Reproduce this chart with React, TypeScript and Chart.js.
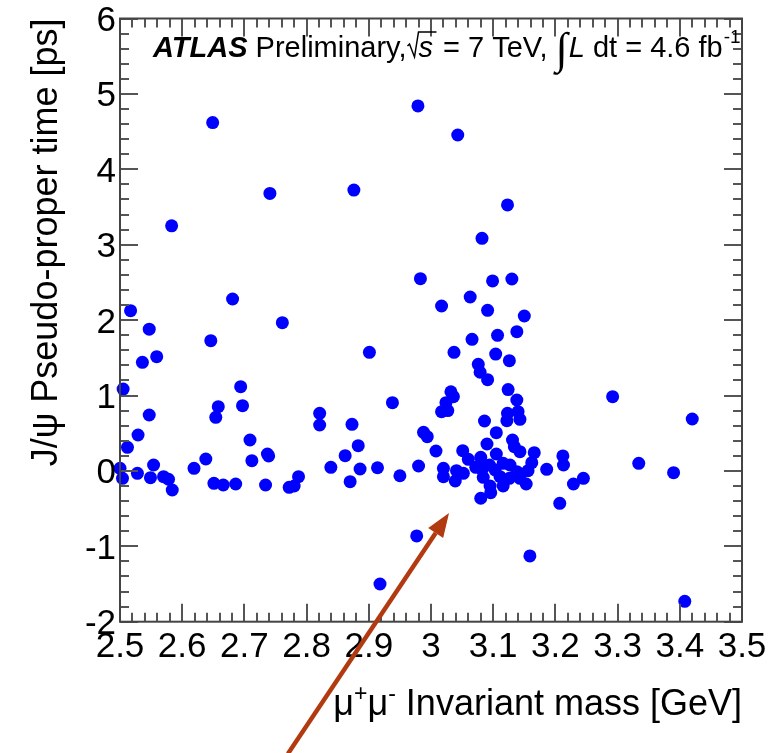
import React, { useEffect, useRef } from "react";
import { Chart, registerables } from "chart.js";

Chart.register(...registerables);

// ---- data ----
const massGeV: number[] = [
  2.649, 2.979, 2.741, 2.876, 2.583, 2.983, 2.517, 2.681, 2.547, 2.761,
  2.646, 2.536, 2.559, 2.901, 2.505, 2.694, 3.043, 3.123, 3.082, 3.099,
  3.130, 3.063, 3.017, 3.091, 3.150, 3.138, 3.107, 3.066, 3.104, 3.126,
  3.037, 3.076, 3.079, 3.091, 3.124, 3.032, 2.500, 2.504, 2.512, 2.529,
  2.547, 2.528, 2.554, 2.549, 2.570, 2.578, 2.584, 2.619, 2.638, 2.651,
  2.666, 2.686, 2.654, 2.658, 2.697, 2.709, 2.712, 2.737, 2.739, 2.734,
  2.772, 2.780, 2.787, 2.821, 2.821, 2.839, 2.862, 2.873, 2.883, 2.870,
  2.886, 2.914, 2.938, 2.950, 2.980, 2.988, 2.994, 3.036, 3.024, 3.138,
  3.017, 3.027, 3.123, 3.140, 3.122, 3.143, 3.086, 3.105, 3.090, 3.131,
  3.134, 3.008, 3.051, 3.143, 3.166, 3.060, 3.080, 3.105, 3.162, 3.072,
  3.094, 3.116, 3.127, 3.020, 3.041, 3.052, 3.082, 3.103, 3.138, 3.156,
  3.186, 3.212, 3.213, 3.020, 3.039, 3.084, 3.111, 3.126, 3.143, 3.095,
  3.116, 3.153, 3.096, 3.080, 3.229, 3.245, 3.207, 3.292, 3.334, 3.390,
  3.420, 2.977, 3.159, 2.918, 3.408,
];
const properTimePs: number[] = [
  4.62, 4.84, 3.68, 3.725, 3.25, 2.55, 2.125, 2.28, 1.88, 1.966,
  1.727, 1.44, 1.515, 1.573, 1.085, 1.117, 4.455, 3.527, 3.085, 2.519,
  2.545, 2.306, 2.187, 2.13, 2.054, 1.846, 1.798, 1.745, 1.55, 1.462,
  1.573, 1.414, 1.308, 1.21, 1.078, 1.05, 0.034, -0.098, 0.313, 0.476,
  0.741, -0.032, 0.078, -0.09, -0.077, -0.111, -0.253, 0.034, 0.158, -0.165,
  -0.187, -0.174, 0.711, 0.852, 0.865, 0.41, 0.135, 0.224, 0.198, -0.187,
  -0.218, -0.2, -0.077, 0.764, 0.609, 0.048, 0.202, 0.618, 0.334, -0.143,
  0.025, 0.042, 0.905, -0.064, 0.065, 0.512, 0.454, 0.984, 0.905, 0.94,
  0.785, 0.8, 0.764, 0.785, 0.666, 0.684, 0.662, 0.507, 0.357, 0.41,
  0.321, 0.264, 0.268, 0.255, 0.242, 0.154, 0.18, 0.224, 0.109, 0.048,
  0.078, 0.1, 0.078, 0.034, 0.003, -0.032, 0.021, 0.012, -0.01, 0.003,
  0.021, 0.198, 0.078, -0.077, -0.134, -0.085, -0.077, -0.098, -0.098, -0.2,
  -0.2, -0.174, -0.289, -0.363, -0.174, -0.098, -0.43, 0.984, 0.1, -0.024,
  0.688, -0.863, -1.128, -1.5, -1.73,
];

const xTickLabels = ["2.5", "2.6", "2.7", "2.8", "2.9", "3", "3.1", "3.2", "3.3", "3.4", "3.5"];
const yTickLabels = ["-2", "-1", "0", "1", "2", "3", "4", "5", "6"];
const xMinorStep = 0.02;
const yMinorStep = 0.2;

const xTitleMain = " Invariant mass [GeV]";
const yTitle = "J/\u03C8 Pseudo-proper time [ps]";

// arrow annotation, in data coordinates (tip, tail)
const arrowTip = { x: 3.029, y: -0.56 };
const arrowTail = { x: 2.77, y: -3.75 };

const FONT = '"Liberation Sans", Arial, Helvetica, sans-serif';

const rootStylePlugin = {
  id: "rootStyle",
  afterDatasetsDraw(chart: any) {
    const { ctx, chartArea } = chart;
    const xs = chart.scales.x;
    const ys = chart.scales.y;
    const L = chartArea.left, R = chartArea.right, T = chartArea.top, B = chartArea.bottom;
    ctx.save();

    // ticks (inside, all four sides)
    ctx.strokeStyle = "#555";
    ctx.lineWidth = 2;
    const xMaj = xTickLabels.map(Number);
    const yMaj = yTickLabels.map(Number);
    const x0 = xMaj[0], x1 = xMaj[xMaj.length - 1];
    const y0 = yMaj[0], y1 = yMaj[yMaj.length - 1];
    ctx.beginPath();
    const nx = Math.round((x1 - x0) / xMinorStep);
    for (let i = 0; i <= nx; i++) {
      const v = x0 + i * xMinorStep;
      const px = Math.round(xs.getPixelForValue(v));
      const len = i % 5 === 0 ? 18 : 9;
      ctx.moveTo(px, B); ctx.lineTo(px, B - len);
      ctx.moveTo(px, T); ctx.lineTo(px, T + len);
    }
    const ny = Math.round((y1 - y0) / yMinorStep);
    for (let i = 0; i <= ny; i++) {
      const v = y0 + i * yMinorStep;
      const py = Math.round(ys.getPixelForValue(v));
      const len = i % 5 === 0 ? 18 : 9;
      ctx.moveTo(L, py); ctx.lineTo(L + len, py);
      ctx.moveTo(R, py); ctx.lineTo(R - len, py);
    }
    ctx.stroke();

    // frame
    ctx.strokeStyle = "#444";
    ctx.lineWidth = 2;
    ctx.strokeRect(L, T, R - L, B - T);

    // tick labels
    ctx.fillStyle = "#000";
    ctx.font = `35px ${FONT}`;
    ctx.textAlign = "center";
    ctx.textBaseline = "alphabetic";
    xTickLabels.forEach((lab) => {
      ctx.fillText(lab, xs.getPixelForValue(Number(lab)), B + 35);
    });
    ctx.textAlign = "right";
    yTickLabels.forEach((lab) => {
      ctx.fillText(lab, L - 4, ys.getPixelForValue(Number(lab)) + 12.5);
    });

    // x title: mu+ mu- Invariant mass [GeV], right aligned
    const big = `36px ${FONT}`;
    const small = `23px ${FONT}`;
    const parts: [string, string, number][] = [
      ["\u03BC", big, 0], ["+", small, -14], ["\u03BC", big, 0], ["-", small, -14], [xTitleMain, big, 0],
    ];
    let tw = 0;
    parts.forEach(([t, f]) => { ctx.font = f; tw += ctx.measureText(t).width; });
    let cx = R - tw;
    const xb = 715;
    ctx.textAlign = "left";
    parts.forEach(([t, f, dy]) => {
      ctx.font = f; ctx.fillText(t, cx, xb + dy); cx += ctx.measureText(t).width;
    });

    // y title, rotated, right aligned at top
    ctx.save();
    ctx.translate(57, T);
    ctx.rotate(-Math.PI / 2);
    ctx.font = big;
    ctx.textAlign = "right";
    ctx.fillText(yTitle, 0, 0);
    ctx.restore();

    // ATLAS label
    let ax = 153;
    const ab = 57;
    ctx.textAlign = "left";
    ctx.font = `italic bold 29px ${FONT}`;
    ctx.fillText("ATLAS", ax, ab); ax += ctx.measureText("ATLAS").width;
    ctx.font = `29px ${FONT}`;
    ctx.fillText(" Preliminary,", ax, ab); ax += ctx.measureText(" Preliminary,").width;
    // radical
    ctx.strokeStyle = "#000";
    ctx.lineWidth = 1.5;
    ctx.beginPath();
    ctx.moveTo(ax + 1, ab - 11);
    ctx.lineTo(ax + 3, ab - 13);
    ctx.lineTo(ax + 8, ab);
    ctx.lineTo(ax + 12, ab - 25);
    ctx.lineTo(ax + 30, ab - 25);
    ctx.stroke();
    ax += 12;
    ctx.font = `italic 29px ${FONT}`;
    ctx.fillText("s", ax, ab); ax += ctx.measureText("s").width + 2;
    ctx.font = `29px ${FONT}`;
    ctx.fillText(" = 7 TeV, ", ax, ab); ax += ctx.measureText(" = 7 TeV, ").width;
    ctx.font = `44px "Liberation Serif", serif`;
    ctx.fillText("\u222B", ax, ab + 6); ax += ctx.measureText("\u222B").width + 1;
    ctx.font = `italic 29px ${FONT}`;
    ctx.fillText("L", ax, ab); ax += ctx.measureText("L").width;
    ctx.font = `29px ${FONT}`;
    ctx.fillText(" dt = 4.6 fb", ax, ab); ax += ctx.measureText(" dt = 4.6 fb").width;
    ctx.font = `19px ${FONT}`;
    ctx.fillText("-1", ax + 1, ab - 14);

    // arrow
    const tx = xs.getPixelForValue(arrowTip.x), ty = ys.getPixelForValue(arrowTip.y);
    const sx = xs.getPixelForValue(arrowTail.x), sy = ys.getPixelForValue(arrowTail.y);
    const ang = Math.atan2(ty - sy, tx - sx);
    const headLen = 24, headW = 9;
    const bx = tx - headLen * Math.cos(ang), by = ty - headLen * Math.sin(ang);
    ctx.strokeStyle = "#B23A10";
    ctx.fillStyle = "#B23A10";
    ctx.lineWidth = 4.5;
    ctx.beginPath();
    ctx.moveTo(sx, sy);
    ctx.lineTo(bx, by);
    ctx.stroke();
    ctx.beginPath();
    ctx.moveTo(tx, ty);
    ctx.lineTo(bx + headW * Math.sin(ang), by - headW * Math.cos(ang));
    ctx.lineTo(bx - headW * Math.sin(ang), by + headW * Math.cos(ang));
    ctx.closePath();
    ctx.fill();

    ctx.restore();
  },
};

export default function App() {
  const ref = useRef<HTMLCanvasElement | null>(null);
  useEffect(() => {
    if (!ref.current) return;
    const pts = massGeV.map((x, i) => ({ x, y: properTimePs[i] }));
    const chart = new Chart(ref.current, {
      type: "scatter",
      data: {
        datasets: [
          {
            data: pts,
            backgroundColor: "#0000FF",
            borderColor: "#0000FF",
            borderWidth: 0,
            pointRadius: 6.5,
            clip: false as any,
          },
        ],
      },
      options: {
        animation: false,
        responsive: false,
        devicePixelRatio: 1,
        layout: { padding: { left: 120, right: 31, top: 18.5, bottom: 131.3 } },
        plugins: { legend: { display: false }, tooltip: { enabled: false } },
        scales: {
          x: { type: "linear", min: 2.5, max: 3.5, display: false },
          y: { type: "linear", min: -2, max: 6, display: false },
        },
      },
      plugins: [rootStylePlugin],
    });
    return () => chart.destroy();
  }, []);
  return (
    <div style={{ position: "fixed", left: 0, top: 0, width: 773, height: 753, background: "#fff" }}>
      <canvas ref={ref} width={773} height={753} />
    </div>
  );
}
